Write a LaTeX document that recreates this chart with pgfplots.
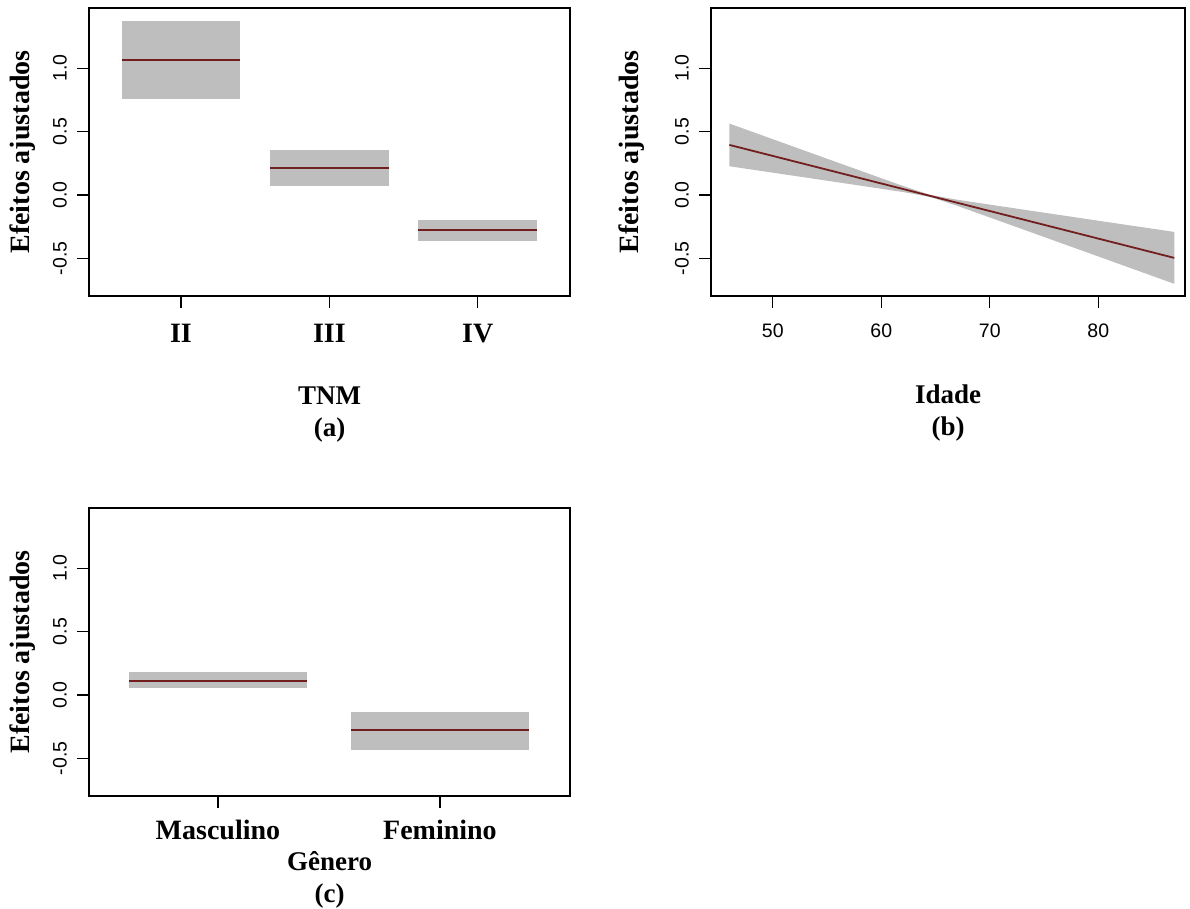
\documentclass[border=0pt]{standalone}
\usepackage{fontspec}
\setmainfont{Liberation Serif}
\newfontfamily\sansf{Liberation Sans}
\usepackage{pgfplots}
\pgfplotsset{compat=1.18}
\definecolor{bandgray}{RGB}{190,190,190}
\definecolor{fitline}{RGB}{115,30,30}
\pgfplotsset{
  rpanel/.style={
    scale only axis, height=288pt,
    ymin=-0.798, ymax=1.476,
    ytick={-0.5,0,0.5,1}, yticklabels={-0.5,0.0,0.5,1.0},
    tick align=outside, major tick length=12pt,
    xtick pos=left, ytick pos=left,
    axis line style={line width=1.2pt},
    every tick/.style={black, line width=1.2pt},
    yticklabel style={font=\sansf\fontsize{19.5}{19.5}\selectfont, rotate=90, anchor=south, inner ysep=10pt},
    ylabel={Efeitos ajustados},
    every axis y label/.style={rotate=90, anchor=center, font=\bfseries\fontsize{28}{28}\selectfont},
    every axis x label/.style={at={(axis description cs:0.5,0)}, anchor=north, inner sep=0pt, align=center, font=\bfseries\fontsize{27}{32}\selectfont},
    every axis plot/.append style={mark=none},
  }
}
\begin{document}
\begin{tikzpicture}
\path[use as bounding box] (0,0) rectangle (1190pt,908pt);
% (a)
\begin{axis}[rpanel, at={(89pt,612pt)}, anchor=south west, width=481pt,
  xmin=0.38, xmax=3.622, xtick={1,2,3}, xticklabels={II,III,IV},
  xticklabel style={font=\bfseries\fontsize{28}{28}\selectfont, inner ysep=16pt},
  ylabel style={at={(axis description cs:-0.139,0.5)}},
  xlabel={TNM\\(a)}, xlabel style={yshift=-91pt}]
\addplot[fill=bandgray, draw=none] coordinates {(0.6,0.759) (1.4,0.759) (1.4,1.374) (0.6,1.374)};
\addplot[fill=bandgray, draw=none] coordinates {(1.6,0.073) (2.4,0.073) (2.4,0.351) (1.6,0.351)};
\addplot[fill=bandgray, draw=none] coordinates {(2.6,-0.366) (3.4,-0.366) (3.4,-0.199) (2.6,-0.199)};
\addplot[fitline, line width=2pt] coordinates {(0.6,1.068) (1.4,1.068)};
\addplot[fitline, line width=2pt] coordinates {(1.6,0.215) (2.4,0.215)};
\addplot[fitline, line width=2pt] coordinates {(2.6,-0.280) (3.4,-0.280)};
\end{axis}
% (b)
\begin{axis}[rpanel, at={(711pt,612pt)}, anchor=south west, width=474pt,
  xmin=44.31, xmax=87.99, xtick={50,60,70,80}, xticklabels={50,60,70,80},
  xticklabel style={font=\sansf\fontsize{19.5}{19.5}\selectfont, inner ysep=16pt},
  ylabel style={at={(axis description cs:-0.167,0.5)}},
  xlabel={Idade\\(b)}, xlabel style={yshift=-89pt}]
\addplot[fill=bandgray, draw=none] coordinates {
  (46,0.5636) (50,0.4402) (55,0.2860) (60,0.1321) (62,0.0710) (64.5,0.0005)
  (67,-0.0378) (70,-0.0765) (75,-0.1401) (80,-0.2037) (87,-0.2922)
  (87,-0.7020) (80,-0.4859) (75,-0.3319) (70,-0.1779) (67,-0.0860)
  (64.5,-0.0155) (62,0.0228) (60,0.0487) (55,0.1124) (50,0.1758) (46,0.2264)};
\addplot[fitline, line width=1.8pt] coordinates {(46,0.395) (87,-0.4971)};
\end{axis}
% (c)
\begin{axis}[rpanel, at={(89pt,112pt)}, anchor=south west, width=481pt,
  xmin=0.419, xmax=2.586, xtick={1,2}, xticklabels={Masculino,Feminino},
  xticklabel style={font=\bfseries\fontsize{28}{28}\selectfont, inner ysep=12pt},
  ylabel style={at={(axis description cs:-0.139,0.5)}},
  xlabel={Gênero\\(c)}, xlabel style={yshift=-55pt}]
\addplot[fill=bandgray, draw=none] coordinates {(0.6,0.052) (1.4,0.052) (1.4,0.183) (0.6,0.183)};
\addplot[fill=bandgray, draw=none] coordinates {(1.6,-0.432) (2.4,-0.432) (2.4,-0.131) (1.6,-0.131)};
\addplot[fitline, line width=2pt] coordinates {(0.6,0.113) (1.4,0.113)};
\addplot[fitline, line width=2pt] coordinates {(1.6,-0.277) (2.4,-0.277)};
\end{axis}
\end{tikzpicture}
\end{document}
